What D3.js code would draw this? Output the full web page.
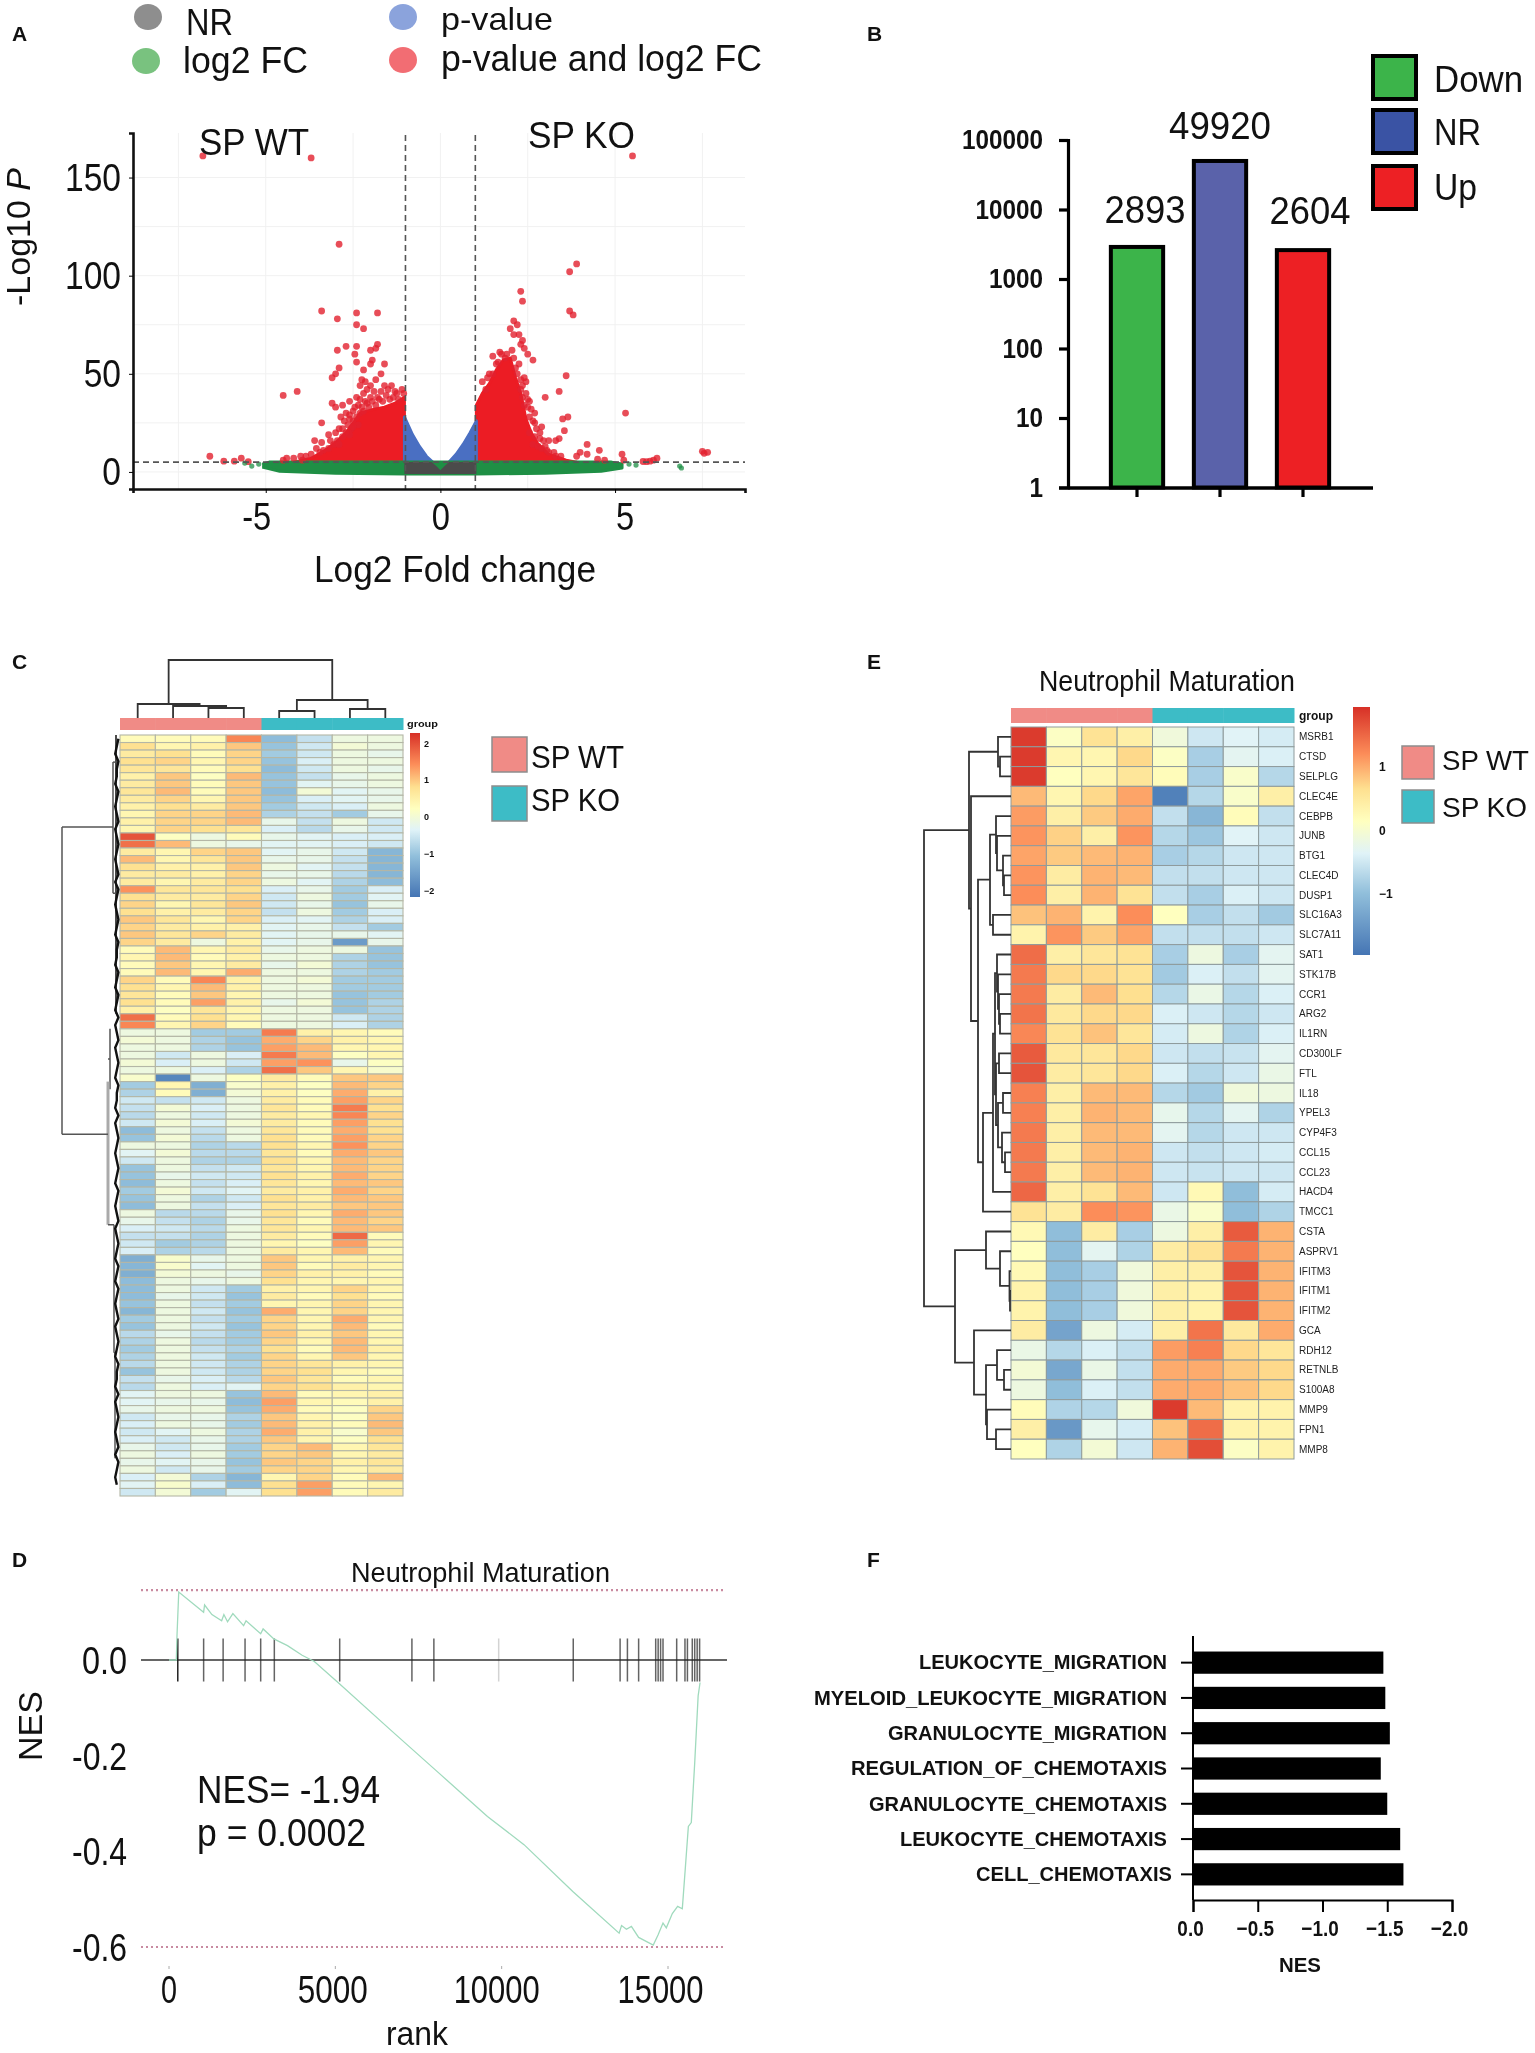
<!DOCTYPE html>
<html>
<head>
<meta charset="utf-8">
<script src="https://cdn.jsdelivr.net/npm/d3@7"></script>
<style>
  body { margin: 0; background: #fff; }
  svg { display: block; font-family: "Liberation Sans", Arial, sans-serif; filter: blur(0.6px); }
</style>
</head>
<body>
<div class="wrapper"></div>
<script>
/*------------------------------- DATA -------------------------------*/
// A: volcano. The dense clouds are read as outlines [log2FC, -log10P], loose dots one by one
var redCloudLeft = [[-4.2,5],[-3.7,7],[-3.3,11],[-3,15],[-2.7,20],[-2.45,26],[-2.3,30],[-2.1,31],[-1.9,32],[-1.6,33],[-1.3,35],[-1.03,38]];
var redCloudRight = [[1.03,34],[1.2,40],[1.4,45],[1.6,52],[1.8,57],[2.0,58],[2.15,48],[2.3,40],[2.45,27],[2.6,20],[2.8,14],[3.1,9],[3.6,6],[3.9,5]];
var blueCloudLeft = [[-1.03,28],[-0.8,19],[-0.6,13],[-0.4,8],[-0.22,5]];
var blueCloudRight = [[0.25,5],[0.45,9],[0.65,14],[0.85,20],[1.03,26]];
var greyCloud = [[-1.03,5],[-0.25,5],[-0.12,3],[0,0.8],[0.12,3],[0.25,5],[1.03,5]];
var greenCloud = [[-5.1,4],[-4.9,5],[-1,5],[1,5],[4.9,5],[5.2,4]];
var greenCloudBase = [[-5.1,2.5],[-4.6,0.3],[-3,-0.7],[-1,-1],[1,-1],[3,-0.7],[4.6,0.3],[5.2,2]];
var redDots = [[-6.8,161],[-3.7,160],[5.5,161],[-2.9,116],[3.9,106],[3.7,102],[2.3,92],[2.35,87],[3.7,82],[3.8,80],
  [-3.4,82],[-2.95,78],[-2.4,81],[-1.8,81],[-2.4,75],[-2.2,73],[-1.8,65],[-1.85,63],[-2.95,62],[-2.7,64],[-2.4,64],[-2.45,60],[-2,62],[-2.4,56],[-1.95,57],[-2.0,55],[-1.6,55],[-2.9,53],[-3.0,50],[-3.1,48],[-2.2,52],[-1.7,50],[-4.5,39],[-4.1,41],[-2.25,47],[-2.3,44],[-2.1,42],[-1.6,44],[-1.5,42],[-1.1,42],[-1.05,40],[-3.1,35],[-3.0,33],[-2.8,34],[-2.6,36],[-2.4,38],[-2.2,40],[-1.9,41],[-2.7,30],[-2.5,31],[-2.85,28],[-3.4,25],[-2.5,26],[-2.65,24],[-3.0,20],[-2.9,22],[-3.2,19],[-3.6,16],[-3.4,15],[-2.35,34],[-2.15,36],[-1.8,38],[-2.55,22],[-2.75,26],[-3.15,16],[-3.55,12],
  [-2.25,33],[-2.05,33],[-1.95,36],[-1.85,34],[-1.75,37],[-1.65,36],[-1.55,39],[-1.45,37],[-1.35,38],[-1.25,40],[-1.2,37],[-2.0,38],[-2.3,30],[-2.4,28],[-2.45,33],[-2.6,27],[-2.2,31],[-2.1,35],[-2.35,24],[-2.5,23],[-2.6,19],[-2.7,20],[-2.8,18],[-2.95,16],[-3.05,14],[-2.9,14],[-3.2,12],[-3.35,11],[-3.45,10],[-3.7,9],[-3.85,8],[-2.8,22],[-2.6,29],[-2.3,37],[-1.7,41],[-1.4,44],[-1.3,41],[-2.0,44],[-2.15,46],[-1.85,47],
  [-6.6,8],[-6.2,5.5],[-5.9,5.5],[-5.7,7],[-5.5,5.2],[-4.5,6],[-4.4,7],[-4.2,7],[-4.0,8],[-3.95,6],
  [2.1,77],[2.2,75],[2,73],[2.1,70],[2.25,70],[2.35,67],[2.3,65],[2.4,63],[2.5,60],[1.5,59],[1.75,60],[1.9,60],[2.1,58],[2.25,55],[2.65,57],[1.6,55],[3.6,49],[1.4,50],[2.4,48],[2.45,46],[3.4,41],[3.0,38],[2.55,36],[2.5,33],[2.6,32],[2.7,30],[3.5,27],[3.65,28],[5.3,30],[2.7,25],[2.9,23],[3.55,21],[2.55,20],[2.7,18],[2.85,17],[3.1,16],[3.3,16],[3.4,17],[2.65,14],[2.8,13],[3.0,13],[4.2,14],[3.1,10],[3.3,8],[4.2,9],[4.0,10],[3.9,8],[4.55,11],[4.7,6],[4.5,6.5],[5.2,9],[5.25,6],[6.1,6],[6,5.5],[5.9,5.2],[5.8,5.3],[6.2,7],[7.5,10.5],[7.65,10],[7.55,9.5],[2.2,50],[2.3,42],[2.35,38],[1.2,46],[1.3,42],
  [1.7,61],[1.85,58],[2.05,62],[2.15,53],[2.3,47],[2.35,44],[2.45,40],[2.5,37],[2.4,34],[2.55,28],[2.65,26],[2.75,22],[2.85,20],[2.95,16],[2.9,12],[3.05,11],[3.25,10],[3.45,8],[1.35,48],[1.5,50],[1.65,56]];
var greenDots = [[-5.6,4.5],[-5.4,3],[-5.2,4],[5.1,3],[5.4,4],[5.6,3.5],[6.9,2],[6.85,3]];
var volcanoXTicks = [-5, 0, 5];
var volcanoYTicks = [0, 50, 100, 150];
var fcCutoffs = [-1, 1];
var pCutoff = 5;

// B: number of genes per group
var degGroups = ["Down", "NR", "Up"];
var degCounts = [2893, 49920, 2604];
var degTicks = [1, 10, 100, 1000, 10000, 100000];

// heatmap column groups
var sampleGroups = ["SP WT","SP WT","SP WT","SP WT","SP KO","SP KO","SP KO","SP KO"];
var legendGroups = ["SP WT", "SP KO"];

// C: z-scores, rows top to bottom, 8 samples
var heatC = [
[.3,.3,.3,1.5,-1.1,-.6,-.1,-.1],
[.8,.4,.5,1,-1,-.5,0,-.1],[.6,.8,.3,.9,-.9,-.5,-.1,-.2],[.8,.9,.4,.9,-1,-.4,-.1,-.1],[.7,.7,.3,.8,-1.1,-.5,-.1,-.2],
[.5,1,.2,1.1,-1,-.6,-.2,-.1],[.6,1,.3,1,-1,-.3,-.2,-.1],[.7,1.1,.3,1,-1.1,0,-.3,-.2],[.6,.9,.4,1,-1,-.4,-.3,-.2],
[.5,.8,.6,1,-.9,-.5,-.4,-.1],[.4,.9,.9,1.1,-.8,-.6,-.9,-.2],[.5,.9,.9,1.1,-.2,-.6,-.1,-.5],[.4,.9,.8,.7,-.4,-.7,-.2,-.5],
[1.95,.2,-.1,.3,-.2,-.3,-.4,-.4],[1.7,1.1,-.1,-.2,-.3,-.3,-.4,-.5],
[.6,.4,.9,1,-.3,-.2,-.5,-1.2],[1.1,.4,.7,1,-.2,-.2,-.6,-1.2],[.8,.5,.5,1,-.1,-.3,-.6,-1.2],[.6,.6,.5,.9,-.2,-.2,-.7,-1.2],[.6,.4,.6,.9,-.1,-.3,-.8,-1.1],
[1.4,.7,.7,.8,-.4,-.2,-.9,-.4],
[.8,.6,.6,.9,-.5,-.1,-.9,-.3],[.9,.4,.7,1,-.5,-.2,-1,-.2],[.8,.5,.6,.9,-.6,-.1,-.9,-.4],[1,.7,.4,.9,-.4,-.3,-.8,-.4],
[.9,.6,.5,.5,-.3,-.2,-.6,-.9],[1,.7,.9,.6,-.3,-.2,-.2,-.3],
[.9,.6,-.1,.5,-.3,-.2,-1.6,-.2],
[.3,1.1,.4,.6,-.2,-.1,-.1,-1],[.4,1.1,.3,.5,-.1,-.1,-.8,-1],[.3,1,.4,.6,-.2,0,-.8,-1],[.3,1.1,.4,1.2,-.1,-.1,-.8,-.9],
[.9,.3,1.5,.5,-.1,0,-.9,-.9],[.8,.4,1.1,.5,-.1,-.1,-.9,-.9],[.7,.3,1,.4,-.1,-.1,-1,-.9],[.8,.3,1.3,.5,-.2,0,-1,-.8],[.5,.2,.7,.4,-.1,-.1,-1,-.8],
[1.7,.3,.8,.4,-.1,-.1,-.5,-.8],[1.5,.4,.9,.3,-.1,-.1,-.4,-.8],
[-.1,-.1,-.9,-.9,1.6,.5,.4,.3],[0,-.1,-.8,-1,1.2,.9,.5,.4],[-.1,-.1,-.8,-1,1.3,1.1,.4,.4],[-.1,-.5,-.1,-.4,1.6,1.1,.2,.4],[0,-.4,-.1,-.5,1.3,1.4,-.2,.2],
[-.1,-.1,-.4,-.8,1.7,1,.4,.1],[.1,-1.9,-.1,.2,.6,.3,1,1],
[-.9,.4,-1.3,.1,.5,.2,1.1,.9],[-.8,.3,-1.3,0,.5,.2,1.2,.5],
[-.5,-.6,-.5,-.1,.6,.3,1.3,.9],[-.6,0,-.4,-.1,.7,.3,1.6,.8],[-.7,-.1,-.5,-.1,.6,.4,1.5,.9],[-.5,0,-.4,0,.6,.3,1.3,.8],
[-1.1,-.1,-.6,-.1,.7,.3,1.2,.8],[-1,0,-.7,-.1,.8,.3,1.3,.9],
[-.1,-.1,-.8,-.7,.8,.4,1.4,.9],[-.3,0,-.7,-.7,.7,.3,1.2,1],[-.5,-.1,-.8,-.8,.8,.4,1.1,.9],
[-1,-.1,-.6,-.5,.7,.4,1.1,.9],[-1,-.2,-.5,-.5,.8,.5,1.2,.9],[-1.1,-.1,-.6,-.4,.7,.4,1.1,1],[-.9,0,-.5,-.3,.6,.5,1.2,.9],[-1,-.1,-.8,-.5,.8,.5,1.1,1],[-1.1,-.1,-.6,-.4,.7,.6,1,1],
[-.1,-.7,-.7,-.2,.8,.4,1.2,1],[-.2,-.6,-.8,-.2,.7,.3,1.1,.9],[-.4,-.5,-.7,-.1,.7,.4,1.1,1],
[-.6,-.6,-.8,-.1,.6,.3,1.75,.3],[-.5,-.9,-.8,-.1,.4,.2,1.3,.4],[-.4,-.8,-.7,-.1,.6,.4,1.1,.3],
[-1.3,.1,-.2,-.1,1,.4,.5,.4],[-1.2,.1,-.3,-.1,1,.3,.6,.4],[-1.3,0,-.1,-.2,.9,.5,.5,.3],[-1.1,-.1,-.2,-.1,.8,.4,.4,.4],
[-1.1,-.1,-.5,-.9,.5,.4,.9,.4],[-1.1,-.2,-.5,-1,.6,.3,.8,.3],[-1,-.1,-.6,-.9,.4,.4,.9,.4],[-1.2,-.1,-.5,-1,1.2,.4,.9,.4],
[-.9,-.1,-.6,-.9,.9,.4,1.2,.4],[-1,-.1,-.5,-1,.9,.4,1.1,.3],[-.7,-.2,-.6,-.9,1,.5,1,.4],[-.8,-.1,-.7,-.9,.9,.4,1.1,.4],[-.9,-.1,-.6,-.8,.8,.3,1.1,.5],[-.8,-.1,-.5,-.9,.9,.4,1,.4],
[-.7,-.1,-.5,-.8,.9,.7,.5,.4],[-1,-.1,-.5,-.8,.9,.8,.4,.3],[-.6,-.2,-.4,-.7,1,.7,.3,.4],[-.7,-.1,-.4,-.3,.9,.8,.5,.4],
[-.3,-.1,-.1,-1,1.1,.3,.4,.5],[-.3,-.2,-.2,-1.1,1.3,.4,.3,.5],[-.2,-.1,-.1,-1,1.2,.3,.2,.9],
[-.5,-.2,-.2,-.8,1,.4,.2,1],[-.4,-.1,-.2,-.9,1.1,.5,.3,1.1],[-.5,-.3,-.1,-.8,1.2,.5,.1,1],[-.4,-.5,-.2,-.8,1,.4,.2,.8],
[-.2,-.5,-.2,-.9,.9,1.1,.4,.7],[-.1,-.4,-.1,-.9,.9,1,.4,.6],[-.2,-.3,-.2,-1,1,.9,.5,.7],[-.1,-.5,-.2,-.9,.9,.9,.4,.6],
[-.4,0,-.8,-1.2,.4,.9,.3,1.1],[-.3,.1,-.4,-1.1,.8,1.3,.3,.4],[-.5,0,-.9,-.3,.8,1.3,.3,.6]
];
var heatCRange = [-2.17, 2.28];
var heatCTicks = [2, 1, 0, -1, -2];
// C dendrogram: row side [height, fromRow, toRow] spines and [row, fromHeight, toHeight] branches
var spinesC = [[58,12.2,53],[7,3.6,21],[4,0,37],[10,39,47],[12,46,65],[6,65,82],[5,82,96]];
var branchesC = [[12.2,58,7],[53,58,12],[3.6,7,4],[21,7,4],[43,12,10],[65,12,6],[82,6,5]];
var leafC = [1,2,3,1,2,2,3,1,2,3,2,1,3,2,1,2,3,2,1,3,1,2,3,2,1,2,3,1,2,2,3,1,2,3,1,2,3,1,3,2,1,3,2,1,2,3,1,2,2,3,1,3,2,1,2,3,2,1,2,3,1,2,3,2,1,3,2,1,2,3,1,2,3,1,2,3,2,1,3,2,1,2,3,1,2,2,3,1,3,2,1,2,3,2,1,3,1,2,3,2];
// column dendrogram: [height, left, right], numbers are sample indexes
var colTreeC = [58, [14, 0, [12, 1, [10, 2, 3]]], [18, [7, 4, 5], [9, 6, 7]]];

// E: z-scores per gene
var genesE = ["MSRB1","CTSD","SELPLG","CLEC4E","CEBPB","JUNB","BTG1","CLEC4D","DUSP1","SLC16A3","SLC7A11","SAT1","STK17B","CCR1","ARG2","IL1RN","CD300LF","FTL","IL18","YPEL3","CYP4F3","CCL15","CCL23","HACD4","TMCC1","CSTA","ASPRV1","IFITM3","IFITM1","IFITM2","GCA","RDH12","RETNLB","S100A8","MMP9","FPN1","MMP8"];
var heatE = [
[1.85,.1,.6,.4,-.1,-.5,-.35,-.45],[1.85,.3,.3,.7,.1,-.8,-.3,-.4],[1.85,.15,.3,.55,.2,-.8,.05,-.7],[.9,.3,.7,1.05,-1.8,-.7,.05,.4],
[1.1,.4,.8,1.0,-.6,-1.1,.2,-.6],[1.15,.75,.4,1.15,-.7,-.9,-.35,-.5],[1.05,.8,.9,.95,-.8,-.7,-.5,-.5],[1.15,.45,.95,.9,-.6,-.6,-.5,-.5],
[1.2,.4,.95,.6,-.6,-.8,-.4,-.5],[.85,.95,.35,1.2,.15,-.8,-.6,-.85],[.35,1.15,.8,1.05,-.6,-.6,-.6,-.5],[1.45,.4,.55,.6,-.8,-.15,-.8,-.3],
[1.35,.7,.7,.6,-.85,-.4,-.6,-.3],[1.35,.45,.9,.65,-.7,-.2,-.7,-.4],[1.4,.5,.7,.7,-.4,-.5,-.7,-.5],[1.25,.6,.85,.55,-.45,-.15,-.75,-.4],
[1.6,.5,.55,.7,-.5,-.6,-.55,-.3],[1.65,.45,.55,.7,-.4,-.7,-.5,-.2],[1.3,.4,.9,.9,-.7,-.85,-.1,-.15],[1.3,.4,.95,.9,-.25,-.7,-.3,-.75],
[1.35,.4,.9,.9,-.3,-.7,-.5,-.5],[1.35,.4,.9,.95,-.5,-.6,-.5,-.45],[1.35,.4,.9,.95,-.5,-.55,-.5,-.5],[1.5,.4,.6,.9,-.5,.25,-1,-.45],
[.6,.45,1.2,1.15,-.2,.05,-1,-.75],[.25,-1,.45,-.8,-.15,.4,1.6,.95],[.15,-1,-.3,-.75,.45,.6,1.35,.95],[.25,-1,-.8,-.1,.4,.4,1.65,.95],
[.35,-1,-.8,-.1,.4,.35,1.65,.95],[.35,-1,-.8,-.1,.4,.35,1.65,.95],[.45,-1.35,-.15,-.45,.4,1.4,.5,1.0],[-.2,-.7,-.4,-.6,1.1,1.3,.7,.55],
[-.05,-1.3,-.2,-.6,1,1,.8,.7],[-.15,-1,-.4,-.6,1,1,.85,.7],[.2,-.75,-.7,-.1,1.85,.9,.35,.35],[.4,-1.5,-.25,-.45,.85,1.45,.35,.35],[.15,-.75,-.05,-.5,.95,1.7,.1,.35]
];
var heatERange = [-1.96, 1.94];
var heatETicks = [1, 0, -1];
// [height, upper, lower], numbers are gene indexes
var rowTreeE = [87,
  [42, [13, 0, [11, 1, 2]],
    [40, 3,
      [33,
        [21, [15, 4, [14, 5, [8, 6, [7, 7, 8]]]], [18, 9, 10]],
        [28,
          [18, [16, [14, 11, [13, 12, [12, 13, [11, 14, 15]]]], [15, [12, 16, 17], [13, [8, 18, 19], [9, 20, [6, 21, 22]]]]], 23],
          24]]]],
  [56, [25, 25, [11, 26, [1.5, 27, [1, 28, 29]]]],
    [37, 30, [25, [14, 31, [7, 32, 33]], [24, 34, [15, 35, 36]]]]]];

// D: running enrichment score [rank, ES] and the rug of gene hits
var esCurve = [[0,0],[220,0],[240,.05],[293,.142],[1040,.10],[1070,.115],[1290,.095],[1583,.082],[1650,.095],[1760,.08],[1920,.097],[2243,.072],[2316,.082],[2756,.055],[2829,.065],[3152,.044],[3562,.03],[4002,.01],[4369,-.003],[5131,-.05],[6641,-.145],[8107,-.236],[9573,-.327],[10672,-.386],[12138,-.484],[13531,-.571],[13604,-.555],[13750,-.563],[13900,-.557],[14117,-.58],[14557,-.596],[14700,-.575],[14850,-.55],[14950,-.56],[15130,-.53],[15290,-.515],[15430,-.52],[15510,-.445],[15612,-.348],[15700,-.34],[15803,-.215],[15906,-.075],[15964,-.047]];
var hitRanks = [264,1041,1627,2286,2756,3166,5131,7302,7962,9910,12152,13560,13780,14117,14630,14704,14777,14850,15261,15510,15584,15730,15803,15877,15950];
var esTop = 0.146, esBottom = -0.6;
var gseaXTicks = [0, 5000, 10000, 15000];
var gseaYTicks = [0, -0.2, -0.4, -0.6];

// F: gene sets and NES
var geneSets = ["LEUKOCYTE_MIGRATION","MYELOID_LEUKOCYTE_MIGRATION","GRANULOCYTE_MIGRATION","REGULATION_OF_CHEMOTAXIS","GRANULOCYTE_CHEMOTAXIS","LEUKOCYTE_CHEMOTAXIS","CELL_CHEMOTAXIS"];
var nesValues = [-1.47,-1.485,-1.52,-1.45,-1.50,-1.60,-1.625];
var nesTicks = [0, -0.5, -1.0, -1.5, -2.0];

/*------------------------------ HELPERS ------------------------------*/
var svg = d3.select(".wrapper").append("svg").attr("width", 1535).attr("height", 2053);
var brewer = ["#4575B4","#91BFDB","#E0F3F8","#FFFFBF","#FEE090","#FC8D59","#D73027"];
// the picture's blues start earlier than an even spread of the palette would
var brewerStops = [0, .25, .41, .54, .67, .81, 1];
var groupColor = { "SP WT": "#f08b86", "SP KO": "#3dbcc6" };

function txt(x, y, str, size, width, anchor, weight) {
  var t = svg.append("text").attr("x", x).attr("y", y).text(str)
    .attr("font-size", size).attr("fill", "#111")
    .attr("text-anchor", anchor || "start").attr("font-weight", weight || "normal");
  if (width) t.attr("textLength", width).attr("lengthAdjust", "spacingAndGlyphs");
  return t;
}

// squeeze axis labels, the picture is a bit narrower than the font
function squeeze(sel, f) {
  sel.each(function () {
    d3.select(this).attr("textLength", this.getComputedTextLength() * f).attr("lengthAdjust", "spacingAndGlyphs");
  });
}

function ramp(range) {
  return d3.scaleLinear().domain(brewerStops.map(f => range[0] + f * (range[1] - range[0]))).range(brewer);
}

function drawHeat(matrix, colorScale, left, top, width, height, stroke, sw) {
  var xb = d3.scaleBand().domain(d3.range(8)).range([left, left + width]);
  var yb = d3.scaleBand().domain(d3.range(matrix.length)).range([top, top + height]);
  svg.append("g").selectAll("g").data(matrix).join("g")
    .selectAll("rect").data((row, r) => row.map((v, c) => ({ v: v, c: c, r: r }))).join("rect")
    .attr("x", d => xb(d.c)).attr("y", d => yb(d.r))
    .attr("width", xb.bandwidth()).attr("height", yb.bandwidth())
    .attr("fill", d => colorScale(d.v)).attr("stroke", stroke).attr("stroke-width", sw);
  return { x: xb, y: yb };
}

function drawGroupBar(xb, y, h) {
  svg.append("g").selectAll("rect").data(sampleGroups).join("rect")
    .attr("x", (d, i) => xb(i)).attr("y", y).attr("width", xb.bandwidth() + 0.5).attr("height", h)
    .attr("fill", d => groupColor[d]);
}

function drawColorBar(id, colorScale, range, x, w, top, bottom, ticks, labelX, tickSize) {
  var grad = svg.append("defs").append("linearGradient").attr("id", id)
    .attr("x1", 0).attr("x2", 0).attr("y1", 0).attr("y2", 1);
  colorScale.domain().slice().reverse().forEach(v => {
    grad.append("stop").attr("offset", (range[1] - v) / (range[1] - range[0])).attr("stop-color", colorScale(v));
  });
  svg.append("rect").attr("x", x).attr("y", top).attr("width", w).attr("height", bottom - top).attr("fill", "url(#" + id + ")");
  var y = d3.scaleLinear().domain(range).range([bottom, top]);
  ticks.forEach(t => {
    txt(labelX, y(t) + tickSize * 0.36, t < 0 ? "\u2212" + (-t) : t, tickSize, null, "start", "bold");
  });
}

function drawLegend(x, ys, w, h, tx, bases, size, width) {
  legendGroups.forEach((g, i) => {
    svg.append("rect").attr("x", x).attr("y", ys[i]).attr("width", w).attr("height", h)
      .attr("fill", groupColor[g]).attr("stroke", "#8d8d8d").attr("stroke-width", 1.5);
    txt(tx, bases[i], g, size, width[i]);
  });
}

// walks [height, a, b] and draws the brackets, returns position and height of a node
function drawTree(node, g, pos, hgt, horizontal) {
  if (!Array.isArray(node)) return { p: pos(node), h: 0 };
  var a = drawTree(node[1], g, pos, hgt, horizontal);
  var b = drawTree(node[2], g, pos, hgt, horizontal);
  var h = node[0];
  var pts = [[a.h, a.p], [h, a.p], [h, b.p], [b.h, b.p]];
  g.append("path").attr("fill", "none").attr("stroke", "#333").attr("stroke-width", 1.8)
    .attr("d", d3.line().x(d => horizontal ? hgt(d[0]) : d[1]).y(d => horizontal ? d[1] : hgt(d[0]))(pts));
  return { p: (a.p + b.p) / 2, h: h };
}

/*------------------------------ PANEL A ------------------------------*/
txt(12, 41, "A", 21, null, "start", "bold");
var legendA = [
  { c: "#8e8e8e", t: "NR", cx: 148, cy: 17, tx: 186, ty: 35, w: 47, s: 36 },
  { c: "#79c27f", t: "log2 FC", cx: 146, cy: 61, tx: 183, ty: 73, w: 125, s: 36 },
  { c: "#8ba3dc", t: "p-value", cx: 403, cy: 17, tx: 441, ty: 30, w: 112, s: 32 },
  { c: "#f26d73", t: "p-value  and log2 FC", cx: 403, cy: 60, tx: 441, ty: 71, w: 321, s: 36 }
];
legendA.forEach(d => {
  svg.append("ellipse").attr("cx", d.cx).attr("cy", d.cy).attr("rx", 14).attr("ry", 13).attr("fill", d.c);
  txt(d.tx, d.ty, d.t, d.s, d.w);
});

var xA = d3.scaleLinear().domain([-8.8, 8.72]).range([133, 745]);
var yA = d3.scaleLinear().domain([-8.7, 172.7]).range([489, 133]);

svg.append("g").selectAll("line").data(d3.range(-7.5, 8, 2.5)).join("line")
  .attr("x1", d => xA(d)).attr("x2", d => xA(d)).attr("y1", 133).attr("y2", 489)
  .attr("stroke", "#f1f1f1").attr("stroke-width", 1);
svg.append("g").selectAll("line").data(d3.range(0, 175, 25)).join("line")
  .attr("x1", 133).attr("x2", 745).attr("y1", d => yA(d)).attr("y2", d => yA(d))
  .attr("stroke", "#f1f1f1").attr("stroke-width", 1);

function cloud(points, color) {
  svg.append("path").datum(points).attr("fill", color).attr("stroke", color).attr("stroke-width", 3).attr("stroke-linejoin", "round")
    .attr("d", d3.area().x(d => xA(d[0])).y0(yA(pCutoff)).y1(d => yA(d[1])));
}
cloud(redCloudLeft, "#ec1c24");
cloud(redCloudRight, "#ec1c24");
cloud(blueCloudLeft, "#4a6fc2");
cloud(blueCloudRight, "#4a6fc2");
var greenRing = greenCloud.concat(greenCloudBase.slice().reverse());
svg.append("path").datum(greenRing).attr("fill", "#1f8f45").attr("stroke", "#1f8f45").attr("stroke-width", 3).attr("stroke-linejoin", "round")
  .attr("d", d3.line().x(d => xA(d[0])).y(d => yA(d[1])));
var greyRing = greyCloud.concat([[1.03,-1],[-1.03,-1]]);
svg.append("path").datum(greyRing).attr("fill", "#4b4b4b")
  .attr("d", d3.line().x(d => xA(d[0])).y(d => yA(d[1])));

svg.append("g").selectAll("circle").data(redDots).join("circle")
  .attr("cx", d => xA(d[0])).attr("cy", d => yA(d[1])).attr("r", 3.4)
  .attr("fill", "#e2202e").attr("fill-opacity", 0.8);
svg.append("g").selectAll("circle").data(greenDots).join("circle")
  .attr("cx", d => xA(d[0])).attr("cy", d => yA(d[1])).attr("r", 2.6)
  .attr("fill", "#1f8f45").attr("fill-opacity", 0.75);

svg.append("g").selectAll("line").data(fcCutoffs).join("line")
  .attr("x1", d => xA(d)).attr("x2", d => xA(d)).attr("y1", 135).attr("y2", 489)
  .attr("stroke", "#555").attr("stroke-width", 1.6).attr("stroke-dasharray", "6 4");
svg.append("line").attr("x1", 133).attr("x2", 745).attr("y1", yA(pCutoff)).attr("y2", yA(pCutoff))
  .attr("stroke", "#555").attr("stroke-width", 1.6).attr("stroke-dasharray", "6 4");

var axisAx = svg.append("g").attr("transform", "translate(0,489)")
  .call(d3.axisBottom(xA).tickValues(volcanoXTicks).tickSize(4).tickPadding(10).tickFormat(d => d));
axisAx.select(".domain").attr("stroke", "#111").attr("stroke-width", 2.6);
axisAx.selectAll("text").attr("font-size", 38).attr("fill", "#111").attr("font-family", "Liberation Sans").attr("dx", d => d * 1.9);
squeeze(axisAx.selectAll("text"), 0.86);
var axisAy = svg.append("g").attr("transform", "translate(133,0)")
  .call(d3.axisLeft(yA).tickValues(volcanoYTicks).tickSize(4).tickPadding(8));
axisAy.select(".domain").attr("stroke", "#111").attr("stroke-width", 2.6);
axisAy.selectAll("text").attr("font-size", 39).attr("fill", "#111").attr("font-family", "Liberation Sans");
squeeze(axisAy.selectAll("text"), 0.86);

txt(199, 155, "SP WT", 36, 110);
txt(528, 148, "SP KO", 36, 107);
txt(455, 582, "Log2 Fold change", 37, 282, "middle");
var yTitle = svg.append("text").attr("transform", "translate(30,237) rotate(-90)").attr("text-anchor", "middle")
  .attr("font-size", 34).attr("fill", "#111");
yTitle.append("tspan").text("-Log10 ");
yTitle.append("tspan").attr("font-style", "italic").text("P");

/*------------------------------ PANEL B ------------------------------*/
txt(867, 41, "B", 21, null, "start", "bold");
var yB = d3.scaleLog().domain([1, 100000]).range([487.5, 140]);
var xB = d3.scaleBand().domain(degGroups).range([1095.5, 1344.5]).paddingInner(0.37).paddingOuter(0.185);
var degBar = ["#3cb44a", "#5a62aa", "#ed2024"];
var degLegend = ["#3cb44a", "#3a53a4", "#ed2024"];
svg.append("g").selectAll("rect").data(degGroups).join("rect")
  .attr("x", d => xB(d)).attr("width", xB.bandwidth())
  .attr("y", (d, i) => yB(degCounts[i])).attr("height", (d, i) => yB(1) - yB(degCounts[i]))
  .attr("fill", (d, i) => degBar[i]).attr("stroke", "#000").attr("stroke-width", 4);
var axisBy = svg.append("g").attr("transform", "translate(1068,0)")
  .call(d3.axisLeft(yB).tickValues(degTicks).tickFormat(d3.format("d")).tickSize(9).tickPadding(16));
axisBy.selectAll("path, line").attr("stroke", "#000").attr("stroke-width", 3.2);
axisBy.selectAll("text").attr("font-size", 27).attr("font-weight", "bold").attr("fill", "#111").attr("font-family", "Liberation Sans");
squeeze(axisBy.selectAll("text"), 0.9);
var axisBx = svg.append("g").attr("transform", "translate(0,488)")
  .call(d3.axisBottom(xB).tickSize(9).tickFormat(""));
axisBx.selectAll("line").attr("stroke", "#000").attr("stroke-width", 3.2);
axisBx.select(".domain").attr("d", "M1068,0H1373").attr("stroke", "#000").attr("stroke-width", 3.4);
var countLabelAt = [[1145, 223], [1220, 139], [1310, 224]];
degCounts.forEach((v, i) => txt(countLabelAt[i][0], countLabelAt[i][1], v, 38, [81, 102, 81][i], "middle"));
degGroups.forEach((g, i) => {
  var top = [56, 110, 166][i];
  svg.append("rect").attr("x", 1373).attr("y", top).attr("width", 43).attr("height", 43)
    .attr("fill", degLegend[i]).attr("stroke", "#000").attr("stroke-width", 4);
  txt(1434, [92, 145, 200][i], g, 36, [89, 47, 43][i]);
});

/*------------------------------ PANEL C ------------------------------*/
txt(12, 669, "C", 21, null, "start", "bold");
var colorC = ramp(heatCRange);
var heatBoxC = drawHeat(heatC, colorC, 120, 735, 283, 761, "#b4b7a6", 1.1);
drawGroupBar(heatBoxC.x, 718, 12);
drawColorBar("gradC", colorC, heatCRange, 410, 10, 733, 897, heatCTicks, 424, 9);
txt(407, 727, "group", 9, 31, "start", "bold");

var gColC = svg.append("g");
drawTree(colTreeC, gColC, i => heatBoxC.x(i) + heatBoxC.x.bandwidth() / 2, d3.scaleLinear().domain([0, 58]).range([718, 660]), false);

var hC = d3.scaleLinear().domain([0, 58]).range([120, 62]);
var rowC = d3.scaleLinear().domain([0, heatC.length]).range([735, 1496]);
svg.append("g").selectAll("line").data(spinesC).join("line")
  .attr("x1", d => hC(d[0])).attr("x2", d => hC(d[0])).attr("y1", d => rowC(d[1])).attr("y2", d => rowC(d[2]))
  .attr("stroke", (d, i) => i == 2 ? "#111" : i == 4 ? "#aaa" : "#555").attr("stroke-width", (d, i) => i == 4 ? 3 : 1.5);
svg.append("g").selectAll("line").data(branchesC).join("line")
  .attr("x1", d => hC(d[1])).attr("x2", d => hC(d[2])).attr("y1", d => rowC(d[0])).attr("y2", d => rowC(d[0]))
  .attr("stroke", "#555").attr("stroke-width", 1.5);
svg.append("path").datum(leafC).attr("fill", "none").attr("stroke", "#111").attr("stroke-width", 2.4)
  .attr("d", d3.line().x(d => hC(d * 1.6)).y((d, i) => rowC(i + 0.5)));
drawLegend(492, [737, 786], 35, 35, 531, [768, 811], 32, [93, 89]);

/*------------------------------ PANEL E ------------------------------*/
txt(867, 669, "E", 21, null, "start", "bold");
txt(1039, 691, "Neutrophil Maturation", 29, 256);
var colorE = ramp(heatERange);
var heatBoxE = drawHeat(heatE, colorE, 1011, 727, 283, 732, "#8f9b9c", 1);
drawGroupBar(heatBoxE.x, 708, 15);
txt(1299, 720, "group", 12, 34, "start", "bold");
svg.append("g").selectAll("text").data(genesE).join("text")
  .attr("x", 1299).attr("y", (d, i) => heatBoxE.y(i) + heatBoxE.y.bandwidth() / 2 + 3.5)
  .attr("font-size", 10).attr("fill", "#222").text(d => d);
drawColorBar("gradE", colorE, heatERange, 1353, 17, 707, 955, heatETicks, 1379, 12);
var gRowE = svg.append("g");
drawTree(rowTreeE, gRowE, i => heatBoxE.y(i) + heatBoxE.y.bandwidth() / 2, d3.scaleLinear().domain([0, 87]).range([1011, 924]), true);
drawLegend(1402, [746, 790], 32, 33, 1442, [770, 817], 28, [87, 85]);

/*------------------------------ PANEL D ------------------------------*/
txt(12, 1567, "D", 21, null, "start", "bold");
var xD = d3.scaleLinear().domain([0, 15000]).range([169, 668]);
var yD = d3.scaleLinear().domain([0, -0.6]).range([1660, 1947]);
txt(351, 1582, "Neutrophil Maturation", 28, 259);
[esTop, esBottom].forEach(v => {
  svg.append("line").attr("x1", 141).attr("x2", 725).attr("y1", yD(v)).attr("y2", yD(v))
    .attr("stroke", "#c98aa0").attr("stroke-width", 2.2).attr("stroke-dasharray", "2 3");
});
svg.append("line").attr("x1", 141).attr("x2", 727).attr("y1", yD(0)).attr("y2", yD(0))
  .attr("stroke", "#666").attr("stroke-width", 2);
svg.append("g").selectAll("line").data(hitRanks).join("line")
  .attr("x1", d => xD(d)).attr("x2", d => xD(d)).attr("y1", yD(0.045)).attr("y2", yD(-0.045))
  .attr("stroke", "#222").attr("stroke-width", 1.5)
  .attr("stroke-opacity", (d, i) => i == 9 ? 0.2 : i == 0 ? 1 : 0.7);
svg.append("path").datum(esCurve).attr("fill", "none").attr("stroke", "#a0dabd").attr("stroke-width", 1.3)
  .attr("d", d3.line().x(d => xD(d[0])).y(d => yD(d[1])));

gseaYTicks.forEach(v => txt(127, yD(v) + 14, d3.format(".1f")(v).replace("\u2212", "-"), 39, v == 0 ? 45 : 55, "end"));
gseaXTicks.forEach(v => {
  svg.append("line").attr("x1", xD(v)).attr("x2", xD(v)).attr("y1", 1966).attr("y2", 1969).attr("stroke", "#aaa");
  txt(xD(v) - v * 0.0005, 2003, v, 38, [16, 70, 86, 86][gseaXTicks.indexOf(v)], "middle");
});
txt(197, 1803, "NES= -1.94", 38, 183);
txt(197, 1846, "p = 0.0002", 38, 169);
txt(417, 2045, "rank", 34, 62, "middle");
svg.append("text").attr("transform", "translate(42,1726) rotate(-90)").attr("text-anchor", "middle")
  .attr("font-size", 34).attr("fill", "#111").text("NES");

/*------------------------------ PANEL F ------------------------------*/
txt(867, 1567, "F", 21, null, "start", "bold");
var xF = d3.scaleLinear().domain([0, -2]).range([1193, 1452]);
var yF = d3.scaleBand().domain(geneSets).range([1645, 1892]).paddingInner(0.37).paddingOuter(0.185);
svg.append("g").selectAll("rect").data(geneSets).join("rect")
  .attr("x", xF(0)).attr("width", (d, i) => xF(nesValues[i]) - xF(0))
  .attr("y", d => yF(d)).attr("height", yF.bandwidth()).attr("fill", "#000");
var axisFx = svg.append("g").attr("transform", "translate(0,1900)")
  .call(d3.axisBottom(xF).tickValues(nesTicks).tickSize(12).tickPadding(8).tickFormat(d3.format(".1f")));
axisFx.selectAll("path, line").attr("stroke", "#000").attr("stroke-width", 2);
axisFx.selectAll("text").attr("font-size", 22).attr("font-weight", "bold").attr("fill", "#111").attr("font-family", "Liberation Sans").attr("dx", -3);
squeeze(axisFx.selectAll("text"), 0.86);
var axisFy = svg.append("g").attr("transform", "translate(1193,0)")
  .call(d3.axisLeft(yF).tickSize(12).tickPadding(14));
axisFy.select(".domain").attr("d", "M0,1636V1900").attr("stroke", "#000").attr("stroke-width", 2);
axisFy.selectAll("line").attr("stroke", "#000").attr("stroke-width", 2);
var labelWidthsF = [248, 353, 279, 316, 298, 267, 196];
axisFy.selectAll("text").attr("font-size", 21).attr("font-weight", "bold").attr("fill", "#111").attr("font-family", "Liberation Sans")
  .attr("textLength", (d, i) => labelWidthsF[i]).attr("lengthAdjust", "spacingAndGlyphs")
  .attr("dx", (d, i) => i == 6 ? 5 : 0);
txt(1300, 1972, "NES", 21, 42, "middle", "bold");
</script>
</body>
</html>
